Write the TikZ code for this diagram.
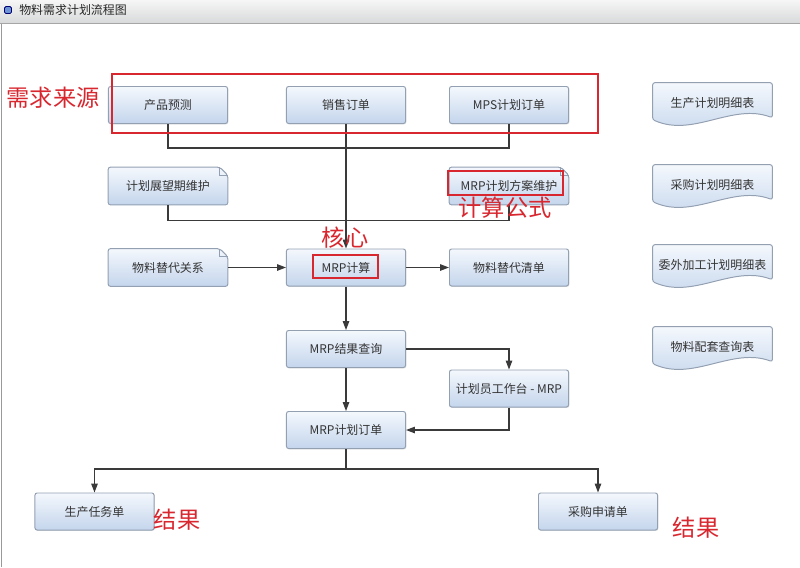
\documentclass[tikz,border=0pt]{standalone}
\usepackage{fontspec}
\setmainfont{Noto Sans CJK SC}
\usepackage{tikz}
\usetikzlibrary{calc,arrows.meta,shadows}
\definecolor{boxtop}{HTML}{F4F8FD}
\definecolor{boxbot}{HTML}{C4D5EC}
\definecolor{edge}{HTML}{93A0B2}
\definecolor{wire}{HTML}{3A3A3A}
\definecolor{mark}{HTML}{D8272F}
\definecolor{bartop}{HTML}{F6F6F6}
\definecolor{barbot}{HTML}{D8D9DA}
\pgfdeclarelayer{bg}
\pgfsetlayers{bg,main}
\tikzset{
  box/.style={draw=edge, line width=0.7pt, rounded corners=1.5pt, top color=boxtop, bottom color=boxbot,
    drop shadow={opacity=0.2, shadow xshift=0.6pt, shadow yshift=-0.6pt},
    minimum width=2.975cm, minimum height=0.925cm, inner sep=0pt, text=black!80, font=\fontsize{8.5}{10}\selectfont},
  plainbox/.style={minimum width=2.975cm, minimum height=0.925cm, inner sep=0pt, text=black!80, font=\fontsize{8.5}{10}\selectfont},
  docbox/.style={plainbox, minimum height=1cm},
  skin/.style={draw=edge, line width=0.7pt, rounded corners=1.5pt, top color=boxtop, bottom color=boxbot},
  wire/.style={draw=wire, line width=0.8pt},
  arr/.style={wire, -{Triangle[length=2.2mm,width=1.6mm]}},
  hot/.style={draw=mark, line width=1pt},
  hotlab/.style={text=mark, inner sep=0pt, font=\fontsize{16.5}{18}\selectfont},
}
% note with folded corner, behind the text
\newcommand\notebg[1]{%
  \begin{pgfonlayer}{bg}
    \draw[skin] (#1.south west) -- (#1.north west) -- ($(#1.north east)+(-8,0)$)
      -- ($(#1.north east)+(0,8)$) -- (#1.south east) -- cycle;
    \draw[draw=edge, line width=0.6pt] ($(#1.north east)+(-8,0)$) -- ($(#1.north east)+(-8,8)$) -- ($(#1.north east)+(0,8)$);
  \end{pgfonlayer}}
% report sheet with wavy bottom
\newcommand\docbg[1]{%
  \begin{pgfonlayer}{bg}
    \draw[skin] (#1.north west) -- (#1.north east) -- ($(#1.north east)+(0,35)$)
      .. controls ($(#1.north east)+(-40,20)$) and ($(#1.north east)+(-79,55)$) .. ($(#1.north west)+(0,37)$) -- cycle;
  \end{pgfonlayer}}

\begin{document}
\begin{tikzpicture}[x=0.025cm, y=-0.025cm]
  \useasboundingbox (0,0) rectangle (800,567);

  % window frame
  \fill[top color=bartop, bottom color=barbot] (0,0) rectangle (800,23);
  \draw[gray!70, line width=0.8pt] (0,23.5) -- (800,23.5);
  \draw[gray!80, line width=1pt] (1.5,23.5) -- (1.5,567);
  \draw[draw=blue!45!black, fill=cyan!45!blue!60, rounded corners=1pt, line width=0.6pt] (4.5,6.5) rectangle (11.5,13.5);
  \node[anchor=west, inner sep=0pt, text=black!85, font=\fontsize{8.5}{10}\selectfont] (title) at (19,10) {物料需求计划流程图};

  % sources
  \node[box] (fc) at (168,105) {产品预测};
  \node[box] (xsdd) at (346,105) {销售订单};
  \node[box] (mps) at (509,105) {MPS计划订单};
  \node[plainbox] (zwq) at (168,186) {计划展望期维护};
  \notebg{zwq}
  \node[plainbox] (fa) at (509,186) {MRP计划方案维护};
  \notebg{fa}

  % core
  \node[plainbox] (tdgx) at (168,267.5) {物料替代关系};
  \notebg{tdgx}
  \node[box] (mrp) at (346,267.5) {MRP计算};
  \node[box] (tdqd) at (509,267.5) {物料替代清单};
  \node[box] (jgcx) at (346,349) {MRP结果查询};
  \node[box] (gzt) at (509,388.5) {计划员工作台 - MRP};
  \node[box] (jhdd) at (346,430) {MRP计划订单};

  % results
  \node[box] (scrw) at (94.5,511.5) {生产任务单};
  \node[box] (cgsq) at (598,511.5) {采购申请单};

  % reports
  \node[docbox] (scjh) at (712.5,103) {生产计划明细表};
  \docbg{scjh}
  \node[docbox] (cgjh) at (712.5,185) {采购计划明细表};
  \docbg{cgjh}
  \node[docbox] (wwjg) at (712.5,265) {委外加工计划明细表};
  \docbg{wwjg}
  \node[docbox] (ptcx) at (712.5,347) {物料配套查询表};
  \docbg{ptcx}

  % connectors
  \draw[wire] (fc.south) -- ++(0,24) -| (mps.south);
  \draw[wire] (zwq.south) -- ++(0,16) -| (fa.south);
  \draw[arr] (xsdd.south) -- (mrp.north);
  \draw[arr] (tdgx) -- (mrp);
  \draw[arr] (mrp) -- (tdqd);
  \draw[arr] (mrp) -- (jgcx);
  \draw[arr] (jgcx) -- (jhdd);
  \draw[arr] (jgcx.east) -| (gzt.north);
  \draw[arr] (gzt.south) |- (jhdd.east);
  \draw[wire] (jhdd.south) -- ++(0,20) coordinate (fen);
  \draw[arr] (fen) -| (scrw.north);
  \draw[arr] (fen) -| (cgsq.north);

  % red marks
  \draw[hot] (112,74) rectangle (598,133);
  \draw[hot] (448,171) rectangle (563,195);
  \draw[hot] (313,255) rectangle (378,278);
  \node[hotlab] (lyuan) at (53,98) {需求来源};
  \node[hotlab] (lgs) at (505,208) {计算公式};
  \node[hotlab] (lhx) at (345,238) {核心};
  \node[hotlab] (ljg1) at (177,520) {结果};
  \node[hotlab] (ljg2) at (696,528) {结果};
\end{tikzpicture}
\end{document}
